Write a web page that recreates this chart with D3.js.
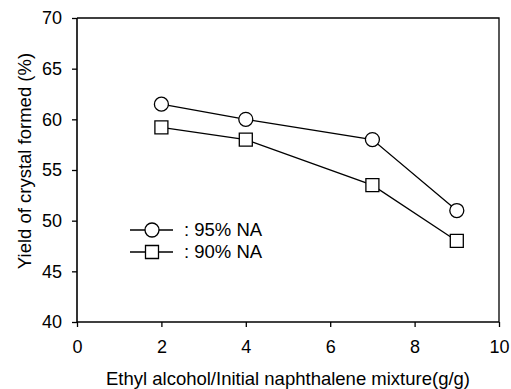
<!DOCTYPE html>
<html>
<head>
<meta charset="utf-8">
<script src="https://cdn.jsdelivr.net/npm/d3@7"></script>
<style>
  html, body { margin: 0; padding: 0; background: #fff; }
  svg { display: block; font-family: "Liberation Sans", Arial, sans-serif; }
</style>
</head>
<body>
<svg id="chart" width="511" height="389"></svg>
<script>
// Ratio of ethyl alcohol to initial naphthalene mixture (g/g)
const ratios = [2, 4, 7, 9];
// Yield of crystal formed (%) for each feed purity
const yield95 = [61.5, 60.0, 58.0, 51.0];
const yield90 = [59.2, 58.0, 53.5, 48.0];
const seriesNames = [": 95% NA", ": 90% NA"];
const xTicks = [0, 2, 4, 6, 8, 10];
const yTicks = [40, 45, 50, 55, 60, 65, 70];

const svg = d3.select("#chart");
const margin = { left: 77, top: 18, right: 12, bottom: 67 };
const W = 511, H = 389;
const x = d3.scaleLinear().domain([0, 10]).range([margin.left, W - margin.right]);
const y = d3.scaleLinear().domain([40, 70]).range([H - margin.bottom, margin.top]);

// frame: top and right edges
svg.append("path")
  .attr("d", `M${x(0)},${y(70)}H${x(10)}V${y(40)}`)
  .attr("fill", "none").attr("stroke", "#000").attr("stroke-width", 1.3);

const xAxis = svg.append("g")
  .attr("transform", `translate(0,${y(40)})`)
  .call(d3.axisBottom(x).tickValues(xTicks).tickSize(5).tickPadding(13).tickFormat(d3.format("d")));
const yAxis = svg.append("g")
  .attr("transform", `translate(${x(0)},0)`)
  .call(d3.axisLeft(y).tickValues(yTicks).tickSize(5).tickPadding(10).tickFormat(d3.format("d")));

[xAxis, yAxis].forEach(g => {
  g.select(".domain").attr("stroke-width", 1.6).attr("d",
    g === xAxis ? `M${x(0)},0H${x(10)}` : `M0,${y(40)}V${y(70)}`);
  g.selectAll(".tick line").attr("stroke-width", 1.3);
  g.selectAll("text").attr("font-size", 18).attr("fill", "#000")
    .attr("font-family", "'Liberation Sans', Arial, sans-serif");
});

svg.append("text")
  .attr("x", 288).attr("y", 385)
  .attr("text-anchor", "middle").attr("font-size", 18.5)
  .text("Ethyl alcohol/Initial naphthalene mixture(g/g)");

svg.append("text")
  .attr("transform", `translate(31,161) rotate(-90)`)
  .attr("text-anchor", "middle").attr("font-size", 18.5)
  .text("Yield of crystal formed (%)");

const line = d3.line().x(d => x(d[0])).y(d => y(d[1]));
const s95 = ratios.map((r, i) => [r, yield95[i]]);
const s90 = ratios.map((r, i) => [r, yield90[i]]);

const symbolFor = shape => d3.symbol()
  .type(shape === "circle" ? d3.symbolCircle : d3.symbolSquare)
  .size(shape === "circle" ? Math.PI * 7 * 7 : 13 * 13);

function drawSeries(data, shape) {
  svg.append("path").datum(data).attr("d", line)
    .attr("fill", "none").attr("stroke", "#000").attr("stroke-width", 1.3);
  svg.append("g").selectAll("path").data(data).join("path")
    .attr("transform", d => `translate(${x(d[0])},${y(d[1])})`)
    .attr("d", symbolFor(shape)).attr("fill", "#fff").attr("stroke", "#000").attr("stroke-width", 1.3);
}
drawSeries(s95, "circle");
drawSeries(s90, "square");

// legend
const legend = svg.append("g");
[["circle", 230], ["square", 252]].forEach(([shape, ly], i) => {
  legend.append("line").attr("x1", 130).attr("x2", 173).attr("y1", ly).attr("y2", ly)
    .attr("stroke", "#000").attr("stroke-width", 1.3);
  legend.append("path").attr("transform", `translate(152,${ly})`).attr("d", symbolFor(shape))
    .attr("fill", "#fff").attr("stroke", "#000").attr("stroke-width", 1.3);
  legend.append("text").attr("x", 184).attr("y", ly + 6).attr("font-size", 18.5)
    .text(seriesNames[i]);
});
</script>
</body>
</html>
